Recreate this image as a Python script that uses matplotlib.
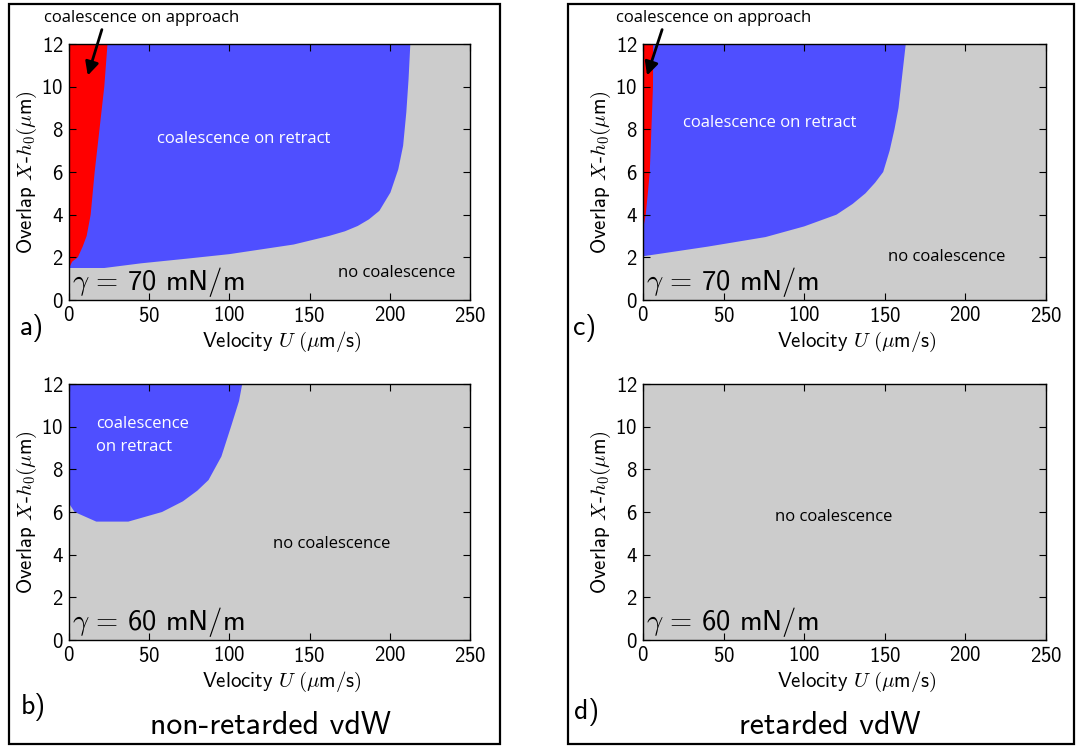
import matplotlib
matplotlib.use("Agg")
import matplotlib.pyplot as plt
from matplotlib.patches import Rectangle

plt.rcParams['font.family'] = 'cmss10'
plt.rcParams['mathtext.fontset'] = 'cm'
plt.rcParams['axes.unicode_minus'] = False
plt.rcParams['axes.formatter.use_mathtext'] = True

# Phase boundaries: velocity U (um/s), overlap X-h0 (um)
# a) non-retarded vdW, gamma = 70 mN/m
a_retract_u = [0, 22, 45, 75, 100, 140, 162, 172, 180, 187, 193.5, 200.4, 205.3, 208.3, 210.3, 211.7, 212.8, 0]
a_retract_x = [1.5, 1.5, 1.72, 1.95, 2.15, 2.6, 3.0, 3.22, 3.47, 3.78, 4.18, 5.04, 6.13, 7.23, 8.8, 10.36, 12, 12]
a_approach_u = [0, 2, 5.5, 8.5, 11, 13.5, 16, 19, 22, 23.5, 24, 0]
a_approach_x = [1.5, 1.8, 2.0, 2.5, 3.0, 4.0, 6.0, 8.0, 10.0, 11.5, 12, 12]

# b) non-retarded vdW, gamma = 60 mN/m
b_retract_u = [0, 3.5, 17, 37, 58, 71, 80, 87, 95, 101, 106, 108, 0]
b_retract_x = [6.4, 6.0, 5.55, 5.55, 6.0, 6.5, 7.0, 7.5, 8.6, 10.0, 11.2, 12, 12]

# c) retarded vdW, gamma = 70 mN/m
c_retract_u = [0, 40, 76, 100, 120, 130, 138, 144, 149, 153, 156, 158.5, 160, 161.5, 163, 0]
c_retract_x = [2.05, 2.5, 2.95, 3.45, 4.0, 4.5, 5.0, 5.5, 6.0, 7.0, 8.0, 9.0, 10.0, 11.0, 12, 12]
c_approach_u = [0, 1.7, 3.0, 4.2, 5.2, 6.2, 6.3, 0]
c_approach_x = [3.3, 4.0, 5.0, 6.0, 8.0, 10.0, 12, 12]

# d) retarded vdW, gamma = 60 mN/m : no coalescence anywhere

W, H = 1078, 747
fig = plt.figure(figsize=(W / 100, H / 100), dpi=100)


def box(l, t, r, b):
    return [l / W, 1 - b / H, (r - l) / W, (b - t) / H]


gray = '#cccccc'
blue = '#4f4fff'
red = '#ff0000'
note_font = 'Open Sans'
note_size = 12

axes = {
    'a': fig.add_axes(box(69, 44, 470, 300)),
    'b': fig.add_axes(box(69, 384, 470, 640)),
    'c': fig.add_axes(box(643, 44, 1046, 300)),
    'd': fig.add_axes(box(643, 384, 1046, 640)),
}
gammas = {'a': '70', 'b': '60', 'c': '70', 'd': '60'}

for key, ax in axes.items():
    ax.set_facecolor(gray)
    ax.set_xlim(0, 250)
    ax.set_ylim(0, 12)
    ax.set_xticks([0, 50, 100, 150, 200, 250])
    ax.set_yticks([0, 2, 4, 6, 8, 10, 12])
    ax.tick_params(direction='in', top=True, right=True, length=5,
                   labelsize=15, pad=4)
    for s in ax.spines.values():
        s.set_linewidth(1.0)
    ax.set_xlabel(r'Velocity $U\;(\mu\mathsf{m}/\mathsf{s})$', fontsize=15)
    ax.xaxis.set_label_coords(0.53, -0.115)
    ax.set_ylabel(r'Overlap $X$-$h_0(\mu\mathsf{m})$', fontsize=15, labelpad=2)
    ax.text(1.8, 0.45, r'$\gamma\,=\,$%s mN$/$m' % gammas[key],
            fontsize=20.5, ha='left', va='baseline')

ax = axes['a']
ax.fill(a_retract_u, a_retract_x, color=blue, lw=0)
ax.fill(a_approach_u, a_approach_x, color=red, lw=0)
ax.text(109, 7.53, 'coalescence on retract', color='white', fontsize=note_size,
        family=note_font, ha='center', va='center')
ax.text(204.4, 1.25, 'no coalescence', fontsize=note_size, family=note_font,
        ha='center', va='center')
ax.text(45.3, 13.2, 'coalescence on approach', fontsize=note_size, family=note_font,
        ha='center', va='center', clip_on=False)
ax.annotate('', xy=(11.2, 10.4), xytext=(21, 12.8), annotation_clip=False,
            arrowprops=dict(arrowstyle='-|>', color='k', lw=2, mutation_scale=20))

ax = axes['b']
ax.fill(b_retract_u, b_retract_x, color=blue, lw=0)
ax.text(16.8, 9.6, 'coalescence\non retract', color='white', fontsize=note_size,
        family=note_font, ha='left', va='center', linespacing=1.6)
ax.text(164, 4.5, 'no coalescence', fontsize=note_size, family=note_font,
        ha='center', va='center')

ax = axes['c']
ax.fill(c_retract_u, c_retract_x, color=blue, lw=0)
ax.fill(c_approach_u, c_approach_x, color=red, lw=0)
ax.text(78.4, 8.28, 'coalescence on retract', color='white', fontsize=note_size,
        family=note_font, ha='center', va='center')
ax.text(188.3, 2.0, 'no coalescence', fontsize=note_size, family=note_font,
        ha='center', va='center')
ax.text(43.9, 13.2, 'coalescence on approach', fontsize=note_size, family=note_font,
        ha='center', va='center', clip_on=False)
ax.annotate('', xy=(2.0, 10.4), xytext=(12.4, 12.8), annotation_clip=False,
            arrowprops=dict(arrowstyle='-|>', color='k', lw=2, mutation_scale=20))

ax = axes['d']
ax.text(118.3, 5.78, 'no coalescence', fontsize=note_size, family=note_font,
        ha='center', va='center')

# panel letters and column titles
for lab, px, py in [('a)', 32, 328), ('b)', 33, 707), ('c)', 585, 328), ('d)', 587, 712)]:
    fig.text(px / W, 1 - py / H, lab, fontsize=20, ha='center', va='center')
fig.text(270 / W, 1 - 725 / H, 'non-retarded vdW', fontsize=23, ha='center', va='center')
fig.text(830 / W, 1 - 725 / H, 'retarded vdW', fontsize=23, ha='center', va='center')

# frames around each column
for l, t, r, b in [(9, 4, 500, 744), (568, 4, 1074, 744)]:
    fig.patches.append(Rectangle((l / W, 1 - b / H), (r - l) / W, (b - t) / H,
                                 transform=fig.transFigure, fill=False,
                                 edgecolor='k', lw=1.6))

fig.savefig('out.png', dpi=100)
